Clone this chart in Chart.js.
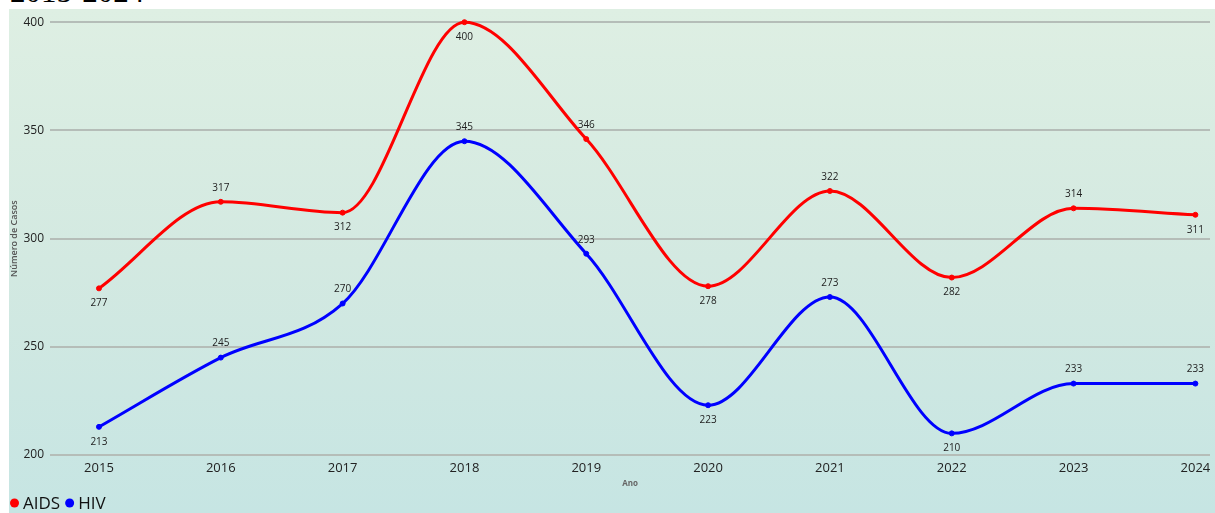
<!DOCTYPE html>
<html>
<head>
<meta charset="utf-8">
<script src="https://cdn.jsdelivr.net/npm/chart.js@4"></script>
<style>
  html, body { margin: 0; padding: 0; background: #fff; overflow: hidden; }
  body { width: 1215px; height: 513px; position: relative; }
  #titulo { position: absolute; left: 10px; top: -24px; font-family: "Liberation Serif", serif; font-size: 31px; line-height: 31px; color: #000; white-space: nowrap; }
  #painel { position: absolute; left: 9px; top: 9px; width: 1206px; height: 504px;
            background: linear-gradient(to bottom, #deefe3 0%, #d3e9e1 50%, #c6e5e3 100%); }
  #painel canvas { position: absolute; left: 0; top: 0; }
</style>
</head>
<body>
<div id="titulo">2015-2024</div>
<div id="painel"><canvas id="grafico" width="1206" height="504"></canvas></div>
<script>
// Dados
const anos = [2015, 2016, 2017, 2018, 2019, 2020, 2021, 2022, 2023, 2024];
const casosAids = [277, 317, 312, 400, 346, 278, 322, 282, 314, 311];
const casosHiv = [213, 245, 270, 345, 293, 223, 273, 210, 233, 233];
const ticksY = [200, 250, 300, 350, 400];

const fonte = '"Open Sans", "DejaVu Sans", sans-serif';

// Rótulos de valores em cada ponto
const rotulos = {
  id: 'rotulos',
  afterDatasetsDraw(chart) {
    const ctx = chart.ctx;
    const area = chart.chartArea;
    ctx.save();
    ctx.font = '10px ' + fonte;
    ctx.fillStyle = '#222';
    ctx.textAlign = 'center';
    ctx.textBaseline = 'middle';
    chart.data.datasets.forEach((ds, i) => {
      const meta = chart.getDatasetMeta(i);
      meta.data.forEach((pt, j) => {
        const v = ds.data[j].y;
        const ant = j > 0 ? ds.data[j - 1].y : null;
        const prox = j < ds.data.length - 1 ? ds.data[j + 1].y : null;
        let abaixo = (ant === null || v < ant) && (prox === null || v < prox);
        if (pt.y - 14 < area.top) abaixo = true;
        ctx.fillText(String(v), pt.x, abaixo ? pt.y + 15 : pt.y - 14);
      });
    });
    ctx.restore();
  }
};

// Legenda compacta no canto inferior esquerdo
const legenda = {
  id: 'legenda',
  afterDraw(chart) {
    const ctx = chart.ctx;
    const y = chart.height - 10;
    let x = 5.5;
    ctx.save();
    ctx.font = '17px ' + fonte;
    ctx.textBaseline = 'middle';
    ctx.textAlign = 'left';
    chart.data.datasets.forEach(ds => {
      ctx.fillStyle = ds.borderColor;
      ctx.beginPath();
      ctx.arc(x, y, 4.5, 0, Math.PI * 2);
      ctx.fill();
      ctx.fillStyle = '#111';
      ctx.fillText(ds.label, x + 8.5, y + 1);
      x += 8.5 + ctx.measureText(ds.label).width + 9.5;
    });
    ctx.restore();
  }
};

const ctx = document.getElementById('grafico').getContext('2d');
new Chart(ctx, {
  type: 'line',
  data: {
    datasets: [
      {
        label: 'AIDS',
        data: anos.map((a, i) => ({ x: a, y: casosAids[i] })),
        borderColor: '#ff0000',
        backgroundColor: '#ff0000',
        borderWidth: 3,
        pointRadius: 2.5,
        pointBorderWidth: 1,
        cubicInterpolationMode: 'monotone',
        clip: false
      },
      {
        label: 'HIV',
        data: anos.map((a, i) => ({ x: a, y: casosHiv[i] })),
        borderColor: '#0000ff',
        backgroundColor: '#0000ff',
        borderWidth: 3,
        pointRadius: 2.5,
        pointBorderWidth: 1,
        cubicInterpolationMode: 'monotone',
        clip: false
      }
    ]
  },
  options: {
    responsive: false,
    animation: false,
    layout: { padding: { top: 13, left: 0, right: 0, bottom: 24 } },
    plugins: {
      tooltip: { enabled: false },
      legend: { display: false }
    },
    scales: {
      x: {
        type: 'linear',
        min: 2014.598,
        max: 2024.12,
        afterFit: s => { s.height = 34; s.paddingLeft = 0; s.paddingRight = 0; },
        grid: { display: false, drawTicks: false },
        border: { display: false },
        ticks: {
          stepSize: 1,
          includeBounds: false,
          autoSkip: false,
          padding: 5,
          color: '#222',
          font: { family: fonte, size: 13 },
          callback: v => String(v)
        },
        title: {
          display: true,
          text: 'Ano',
          color: '#666',
          padding: 0,
          font: { family: fonte, size: 8, weight: 'bold' }
        }
      },
      y: {
        min: 200,
        max: 400,
        afterFit: s => { s.width = 41; },
        afterBuildTicks: s => { s.ticks = ticksY.map(v => ({ value: v })); },
        grid: { color: '#b5bdb8', lineWidth: 2, drawTicks: false },
        border: { display: false },
        ticks: {
          padding: 6,
          color: '#222',
          font: { family: fonte, size: 12 }
        },
        title: {
          display: true,
          text: 'Número de Casos',
          color: '#555',
          padding: 0,
          font: { family: fonte, size: 9, weight: '600' }
        }
      }
    }
  },
  plugins: [rotulos, legenda]
});
</script>
</body>
</html>
